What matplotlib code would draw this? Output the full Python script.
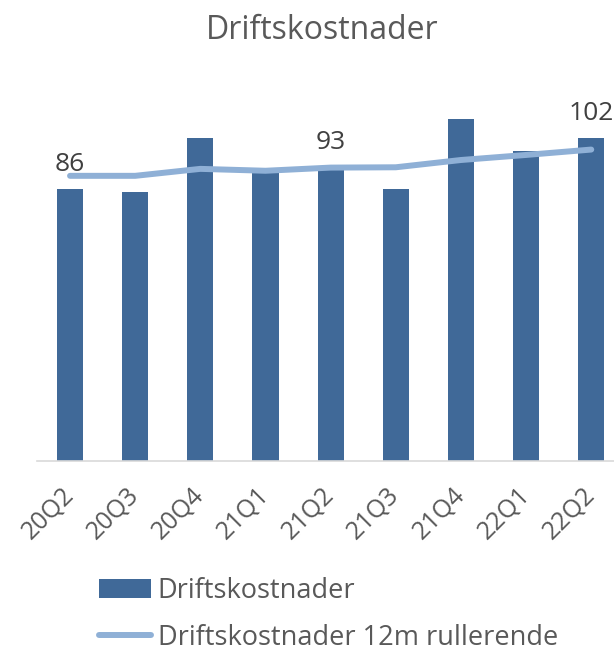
import matplotlib
matplotlib.use('Agg')
import matplotlib.pyplot as plt
import numpy as np
from matplotlib.patches import Patch
from matplotlib.lines import Line2D

# Data
quarters = ['20Q2', '20Q3', '20Q4', '21Q1', '21Q2', '21Q3', '21Q4', '22Q1', '22Q2']
kostnader = [86, 85, 102, 91, 93, 86, 108, 98, 102]
rullerende = [90.1, 90.1, 92.3, 91.7, 92.7, 92.8, 95.1, 96.7, 98.4]
labelled = {0: '86', 4: '93', 8: '102'}

bar_color = '#406998'
line_color = '#8FB0D6'
text_color = '#595959'

plt.rcParams['font.family'] = ['Open Sans', 'DejaVu Sans']

fig = plt.figure(figsize=(6.14, 6.47), dpi=100)
ax = fig.add_axes([0.061, 0.2875, 0.955, 0.587])

x = np.arange(len(quarters))
ax.bar(x, kostnader, width=0.4, color=bar_color, zorder=2)
ax.plot(x, rullerende, color=line_color, linewidth=4.3, solid_capstyle='round', zorder=3)

# verdietiketter over utvalgte søyler
for i, txt in labelled.items():
    ax.annotate(txt, xy=(x[i], kostnader[i]), xytext=(0, 17.5), textcoords='offset points',
                ha='center', va='center', fontsize=19, color='#404040')

ax.set_xlim(-0.5, len(quarters) - 0.5)
ax.set_ylim(0, 120)
ax.set_yticks([])
for s in ['top', 'right', 'left']:
    ax.spines[s].set_visible(False)
ax.spines['bottom'].set_color('#D9D9D9')
ax.spines['bottom'].set_linewidth(1.2)
ax.tick_params(axis='x', length=0, pad=22)
ax.set_xticks(x)
ax.set_xticklabels(quarters, rotation=45, ha='right', va='center', rotation_mode='anchor',
                   fontsize=18, color=text_color)

fig.text(0.525, 0.953, 'Driftskostnader', ha='center', va='center', fontsize=23, color=text_color)

handles = [Patch(facecolor=bar_color, edgecolor='none'),
           Line2D([0], [0], color=line_color, linewidth=4.3, solid_capstyle='round')]
fig.legend(handles, ['Driftskostnader', 'Driftskostnader 12m rullerende'],
           loc='upper left', bbox_to_anchor=(0.162, 0.108), frameon=False,
           fontsize=19.5, labelcolor=text_color, handlelength=1.9, handletextpad=0.25,
           labelspacing=0.68, borderaxespad=0, borderpad=0)

fig.savefig('out.png', dpi=100)
